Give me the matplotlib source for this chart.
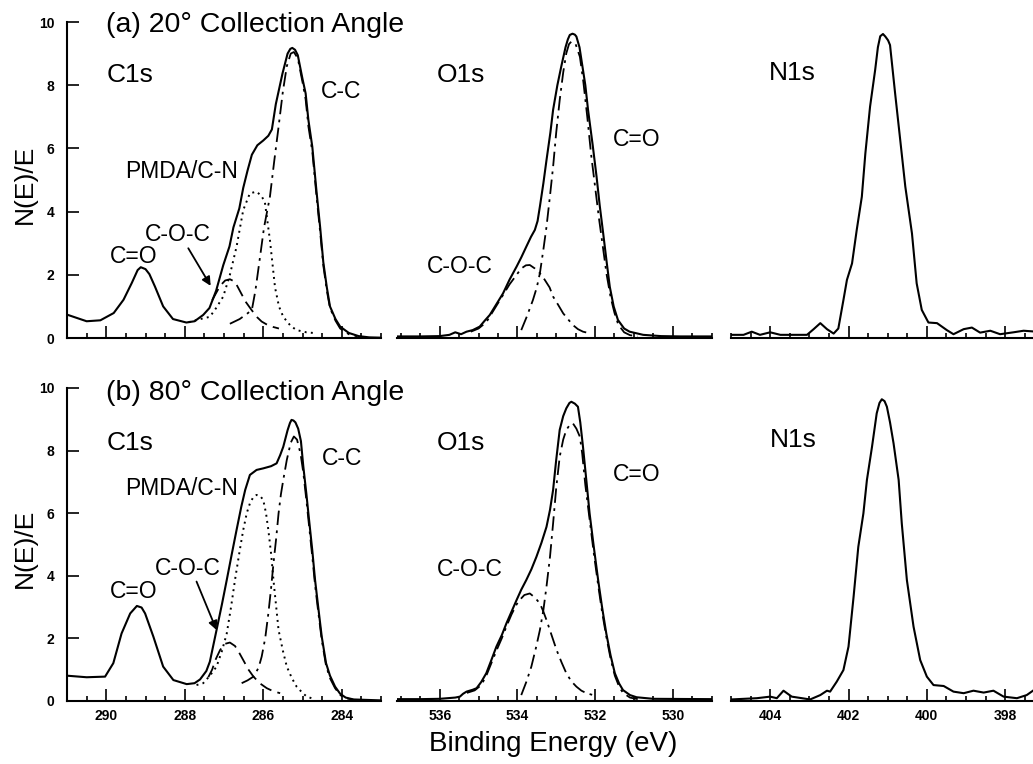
import matplotlib
matplotlib.use("Agg")
import matplotlib.pyplot as plt
import numpy as np
from matplotlib.ticker import MultipleLocator

plt.rcParams['font.family'] = ['Liberation Sans', 'DejaVu Sans']

# --- Data (binding energy in eV, N(E)/E) ---

# (a) 20 deg, C1s
C1S_A_TOT_E = [291.0, 290.5, 290.15, 289.81, 289.56, 289.35, 289.2, 289.12, 289.0, 288.9, 288.76, 288.55,
               288.3, 287.96, 287.75, 287.53, 287.37, 287.2, 287.02, 286.86, 286.76, 286.61, 286.51, 286.4,
               286.29, 286.15, 286.0, 285.87, 285.78, 285.68, 285.51, 285.38, 285.31, 285.26, 285.19, 285.12,
               285.0, 284.92, 284.85, 284.75, 284.64, 284.55, 284.47, 284.38, 284.3, 284.16, 284.04, 283.82,
               283.57, 283.3, 283.0]
C1S_A_TOT_I = [0.74, 0.53, 0.56, 0.79, 1.21, 1.74, 2.15, 2.24, 2.18, 2.02, 1.63, 1.0,
               0.6, 0.49, 0.53, 0.73, 0.95, 1.5, 2.3, 2.9, 3.5, 4.1, 4.75, 5.3,
               5.8, 6.1, 6.25, 6.4, 6.6, 7.4, 8.37, 9.0, 9.15, 9.18, 9.12, 8.95,
               8.2, 7.74, 6.9, 6.05, 4.6, 3.5, 2.4, 1.6, 1.0, 0.6, 0.36, 0.16,
               0.06, 0.02, 0.01]
C1S_A_PMDA_E = [287.9, 287.6, 287.36, 287.2, 287.02, 286.85, 286.68, 286.51, 286.34, 286.17, 286.05, 285.96,
                285.83, 285.7, 285.6, 285.49, 285.3, 285.15, 284.9, 284.64]
C1S_A_PMDA_I = [0.5, 0.6, 0.67, 0.95, 1.31, 2.0, 2.89, 4.05, 4.58, 4.63, 4.5, 4.31,
                3.1, 1.6, 1.0, 0.67, 0.38, 0.25, 0.18, 0.15]
C1S_A_COC_E = [287.3, 287.1, 286.97, 286.85, 286.72, 286.6, 286.45, 286.3, 286.15, 286.04, 285.9, 285.75, 285.6]
C1S_A_COC_I = [1.2, 1.65, 1.82, 1.86, 1.78, 1.5, 1.15, 0.89, 0.65, 0.52, 0.42, 0.35, 0.3]
C1S_A_CC_E = [286.85, 286.6, 286.4, 286.29, 286.2, 286.1, 285.98, 285.83, 285.72, 285.62, 285.5, 285.4,
              285.3, 285.22, 285.12, 285.0, 284.92, 284.85, 284.75, 284.64, 284.55, 284.47, 284.38, 284.3,
              284.16, 284.04, 283.82, 283.6]
C1S_A_CC_I = [0.45, 0.6, 0.78, 0.89, 1.5, 2.4, 3.5, 4.47, 5.6, 6.58, 7.8, 8.6,
              9.0, 9.05, 8.85, 8.1, 7.55, 6.7, 5.9, 4.45, 3.35, 2.3, 1.5, 0.95,
              0.55, 0.3, 0.12, 0.05]

# (b) 80 deg, C1s
C1S_B_TOT_E = [291.0, 290.5, 290.03, 289.82, 289.61, 289.39, 289.22, 289.1, 289.01, 288.8, 288.55, 288.29,
               287.95, 287.75, 287.61, 287.45, 287.36, 287.19, 287.05, 286.93, 286.8, 286.68, 286.56, 286.46,
               286.34, 286.17, 286.0, 285.8, 285.66, 285.57, 285.49, 285.38, 285.32, 285.28, 285.23, 285.18,
               285.11, 285.04, 284.98, 284.9, 284.85, 284.75, 284.68, 284.6, 284.51, 284.4, 284.3, 284.17,
               284.04, 283.9, 283.7, 283.0]
C1S_B_TOT_I = [0.8, 0.75, 0.77, 1.2, 2.15, 2.79, 3.03, 2.98, 2.79, 2.05, 1.09, 0.66,
               0.53, 0.56, 0.68, 0.95, 1.25, 2.26, 3.1, 3.86, 4.7, 5.46, 6.2, 6.74,
               7.22, 7.38, 7.43, 7.5, 7.59, 7.85, 8.12, 8.65, 8.88, 8.98, 8.96, 8.9,
               8.7, 8.3, 7.5, 6.6, 5.99, 4.8, 3.86, 3.0, 2.05, 1.2, 0.8, 0.45,
               0.22, 0.1, 0.04, 0.01]
C1S_B_PMDA_E = [287.7, 287.53, 287.36, 287.19, 287.05, 286.93, 286.82, 286.72, 286.6, 286.51, 286.42, 286.34,
                286.25, 286.17, 286.08, 286.0, 285.93, 285.87, 285.8, 285.74, 285.67, 285.61, 285.5, 285.4,
                285.27, 285.15, 285.0, 284.89, 284.7]
C1S_B_PMDA_I = [0.5, 0.56, 0.8, 1.09, 1.6, 2.15, 3.0, 3.86, 4.8, 5.46, 6.0, 6.31,
                6.52, 6.58, 6.55, 6.42, 6.0, 5.46, 4.7, 3.86, 3.0, 2.26, 1.6, 1.09,
                0.72, 0.45, 0.25, 0.13, 0.05]
C1S_B_COC_E = [287.4, 287.3, 287.22, 287.1, 286.97, 286.85, 286.72, 286.62, 286.51, 286.38, 286.25, 286.08,
               285.91, 285.74, 285.57]
C1S_B_COC_I = [0.75, 1.0, 1.3, 1.62, 1.82, 1.86, 1.75, 1.55, 1.3, 1.0, 0.77, 0.55,
               0.4, 0.3, 0.24]
C1S_B_CC_E = [286.55, 286.4, 286.25, 286.12, 286.04, 285.95, 285.87, 285.8, 285.74, 285.67, 285.61, 285.55,
              285.49, 285.4, 285.3, 285.22, 285.14, 285.05, 284.98, 284.9, 284.85, 284.75, 284.68, 284.6,
              284.51, 284.4, 284.3, 284.17, 284.04, 283.9, 283.7]
C1S_B_CC_I = [0.56, 0.65, 0.77, 1.05, 1.41, 2.0, 2.79, 3.6, 4.39, 5.2, 5.99, 6.6,
              7.06, 7.7, 8.25, 8.45, 8.35, 7.9, 7.3, 6.4, 5.8, 4.6, 3.7, 2.85,
              1.95, 1.12, 0.72, 0.4, 0.18, 0.08, 0.03]

# (a) 20 deg, O1s
O1S_A_TOT_E = [537.12, 536.5, 536.0, 535.75, 535.6, 535.45, 535.31, 535.15, 534.97, 534.84, 534.71, 534.55,
               534.37, 534.2, 534.02, 533.9, 533.77, 533.65, 533.55, 533.48, 533.42, 533.33, 533.25, 533.15,
               533.08, 532.97, 532.87, 532.76, 532.7, 532.65, 532.58, 532.52, 532.48, 532.4, 532.35, 532.25,
               532.18, 532.06, 531.96, 531.88, 531.79, 531.7, 531.62, 531.52, 531.41, 531.25, 531.11, 530.76,
               530.3, 529.8, 529.0]
O1S_A_TOT_I = [0.05, 0.05, 0.06, 0.1, 0.18, 0.12, 0.2, 0.25, 0.36, 0.55, 0.73, 1.05,
               1.41, 1.85, 2.26, 2.55, 2.89, 3.2, 3.42, 3.7, 4.16, 4.9, 5.63, 6.5,
               7.22, 8.0, 8.59, 9.2, 9.45, 9.59, 9.63, 9.6, 9.54, 9.2, 8.8, 8.0,
               7.22, 6.1, 5.1, 4.2, 3.31, 2.4, 1.62, 1.0, 0.57, 0.3, 0.2, 0.1,
               0.06, 0.05, 0.05]
O1S_A_CO_E = [533.9, 533.75, 533.6, 533.5, 533.42, 533.33, 533.25, 533.16, 533.08, 533.0, 532.91, 532.82,
              532.74, 532.67, 532.61, 532.5, 532.39, 532.3, 532.2, 532.1, 532.0, 531.9, 531.8, 531.7,
              531.6, 531.5, 531.4, 531.25, 531.1, 530.9]
O1S_A_CO_I = [0.25, 0.7, 1.2, 1.6, 2.05, 2.8, 3.52, 4.5, 5.42, 6.5, 7.53, 8.4,
              9.01, 9.3, 9.38, 9.3, 8.9, 8.1, 7.0, 5.8, 4.8, 3.8, 2.9, 2.0,
              1.3, 0.8, 0.42, 0.18, 0.09, 0.05]
O1S_A_COC_E = [535.2, 535.0, 534.8, 534.6, 534.4, 534.2, 534.02, 533.9, 533.78, 533.68, 533.55, 533.42,
               533.3, 533.17, 533.08, 532.95, 532.82, 532.7, 532.57, 532.44, 532.31, 532.14]
O1S_A_COC_I = [0.2, 0.3, 0.5, 0.9, 1.3, 1.7, 2.0, 2.2, 2.3, 2.31, 2.2, 2.05,
               1.85, 1.6, 1.31, 1.05, 0.78, 0.6, 0.41, 0.28, 0.2, 0.15]

# (b) 80 deg, O1s
O1S_B_TOT_E = [537.12, 536.5, 536.0, 535.6, 535.48, 535.4, 535.31, 535.15, 535.05, 534.93, 534.8, 534.67,
               534.54, 534.4, 534.28, 534.15, 534.02, 533.9, 533.77, 533.64, 533.51, 533.38, 533.25, 533.16,
               533.08, 533.0, 532.91, 532.82, 532.74, 532.66, 532.61, 532.52, 532.44, 532.38, 532.31, 532.22,
               532.14, 532.03, 531.92, 531.82, 531.71, 531.6, 531.49, 531.38, 531.28, 531.1, 530.93, 530.5, 529.0]
O1S_B_TOT_I = [0.05, 0.05, 0.06, 0.1, 0.13, 0.22, 0.29, 0.35, 0.4, 0.6, 0.88, 1.3,
               1.73, 2.1, 2.48, 2.85, 3.22, 3.55, 3.86, 4.2, 4.6, 5.05, 5.56, 6.1,
               6.74, 7.7, 8.66, 9.1, 9.35, 9.52, 9.56, 9.5, 9.4, 8.9, 8.12, 7.0,
               5.99, 4.9, 3.86, 3.0, 2.15, 1.45, 0.88, 0.55, 0.34, 0.18, 0.11, 0.06, 0.05]
O1S_B_CO_E = [533.9, 533.77, 533.64, 533.52, 533.42, 533.33, 533.25, 533.16, 533.08, 533.0, 532.91, 532.82,
              532.74, 532.65, 532.57, 532.48, 532.39, 532.33, 532.25, 532.14, 532.03, 531.92, 531.82, 531.71,
              531.6, 531.49, 531.38, 531.28, 531.1, 530.9]
O1S_B_CO_I = [0.18, 0.6, 1.09, 1.7, 2.26, 2.9, 3.65, 4.6, 5.67, 6.8, 7.8, 8.35,
              8.66, 8.82, 8.87, 8.7, 8.44, 7.9, 6.9, 5.8, 4.7, 3.7, 2.85, 2.05,
              1.35, 0.8, 0.45, 0.25, 0.1, 0.05]
O1S_B_COC_E = [535.3, 535.1, 534.93, 534.8, 534.67, 534.54, 534.4, 534.28, 534.15, 534.02, 533.94, 533.82,
               533.68, 533.55, 533.42, 533.33, 533.25, 533.12, 532.99, 532.86, 532.74, 532.61, 532.48, 532.35,
               532.22, 532.05]
O1S_B_COC_I = [0.25, 0.33, 0.5, 0.8, 1.2, 1.6, 2.0, 2.38, 2.76, 3.08, 3.22, 3.38,
               3.43, 3.3, 3.11, 2.85, 2.58, 2.1, 1.62, 1.22, 0.88, 0.62, 0.45, 0.32,
               0.24, 0.18]

# (a) 20 deg, N1s
N1S_A_E = [405.0, 404.68, 404.47, 404.26, 404.0, 403.74, 403.06, 402.89, 402.72, 402.55, 402.38, 402.26,
           402.13, 402.04, 401.91, 401.79, 401.66, 401.57, 401.45, 401.32, 401.25, 401.19, 401.12, 401.06,
           400.99, 400.94, 400.81, 400.68, 400.55, 400.38, 400.26, 400.13, 399.96, 399.74, 399.49, 399.32,
           399.06, 398.85, 398.64, 398.38, 398.13, 397.79, 397.53, 397.2]
N1S_A_I = [0.1, 0.1, 0.2, 0.1, 0.18, 0.1, 0.1, 0.28, 0.47, 0.28, 0.14, 0.3,
           1.2, 1.84, 2.36, 3.42, 4.47, 5.84, 7.32, 8.48, 9.2, 9.55, 9.62, 9.54,
           9.42, 9.27, 7.74, 6.27, 4.79, 3.31, 1.73, 0.89, 0.49, 0.47, 0.25, 0.12,
           0.28, 0.33, 0.17, 0.23, 0.12, 0.18, 0.23, 0.2]

# (b) 80 deg, N1s
N1S_B_E = [405.0, 404.34, 404.0, 403.83, 403.66, 403.45, 402.98, 402.72, 402.55, 402.47, 402.3, 402.13,
           402.0, 401.87, 401.75, 401.62, 401.53, 401.4, 401.28, 401.21, 401.15, 401.08, 401.02, 400.94,
           400.85, 400.72, 400.64, 400.51, 400.34, 400.17, 400.0, 399.83, 399.57, 399.32, 399.06, 398.81,
           398.55, 398.3, 398.04, 397.7, 397.45, 397.2]
N1S_B_I = [0.04, 0.08, 0.13, 0.08, 0.32, 0.13, 0.04, 0.18, 0.32, 0.29, 0.61, 0.98,
           1.73, 3.33, 4.92, 5.99, 7.06, 8.12, 9.19, 9.52, 9.64, 9.58, 9.4, 8.9,
           8.23, 7.06, 5.67, 3.86, 2.37, 1.3, 0.77, 0.5, 0.47, 0.29, 0.24, 0.32,
           0.26, 0.32, 0.13, 0.08, 0.18, 0.4]

# --- Layout (pixel geometry of the reference) ---
FIG_W, FIG_H = 1033, 764
TOP_ROW = (338, 22)      # pixel y of 0 and of 10
BOT_ROW = (700.7, 388)
C1S_SPAN = (67, 291.0, 283.0, 39.25)    # left px, xlim, px per eV
O1S_SPAN = (397, 537.1, 529.0, 38.83)
N1S_SPAN = (731, 405.0, 397.2, 39.17)

SOLID = dict(color='black', lw=1.5, zorder=4)
DOTTED = dict(color='black', lw=1.4, ls=(0, (1, 2.2)), zorder=3)
DASHED = dict(color='black', lw=1.3, ls=(0, (7, 3.5)), zorder=3)
DASHDOT = dict(color='black', lw=1.3, ls=(0, (8, 3, 1.5, 3)), zorder=3)

LABEL_FS = 16.5
PANEL_FS = 19
TITLE_FS = 20.5
TICK_FS = 10


def make_axes(fig, span, row):
    left_px, x0, x1, ppe = span
    y0_px, y10_px = row
    rect = [left_px / FIG_W, 1 - y0_px / FIG_H,
            abs(x0 - x1) * ppe / FIG_W, (y0_px - y10_px) / FIG_H]
    ax = fig.add_axes(rect)
    ax.set_xlim(x0, x1)
    ax.set_ylim(0, 10)
    ax.patch.set_visible(False)
    for side in ('top', 'right'):
        ax.spines[side].set_visible(False)
    for sp in ax.spines.values():
        sp.set_linewidth(1.5)
    ax.xaxis.set_major_locator(MultipleLocator(2))
    ax.xaxis.set_minor_locator(MultipleLocator(0.5))
    ax.tick_params(axis='x', which='major', direction='in', length=8.5, width=1.2,
                   labelsize=TICK_FS, pad=6)
    ax.tick_params(axis='x', which='minor', direction='in', length=3.5, width=1.2)
    for lab in ax.get_xticklabels():
        lab.set_fontweight('bold')
    return ax


def c1s_panel(ax, tot, pmda, coc, cc, labels):
    ax.plot(*pmda, **DOTTED)
    ax.plot(*coc, **DASHED)
    ax.plot(*cc, **DASHDOT)
    ax.plot(*tot, **SOLID)
    ax.yaxis.set_major_locator(MultipleLocator(2))
    ax.tick_params(axis='y', direction='in', length=8.5, width=1.2, labelsize=TICK_FS, pad=9)
    for lab in ax.get_yticklabels():
        lab.set_fontweight('bold')
    for txt, (x, y), fs in labels:
        ax.text(x, y, txt, fontsize=fs, ha='left', va='center')


fig = plt.figure(figsize=(FIG_W / 100, FIG_H / 100), dpi=100)

for row, tag in ((TOP_ROW, 'a'), (BOT_ROW, 'b')):
    ax_c = make_axes(fig, C1S_SPAN, row)
    ax_o = make_axes(fig, O1S_SPAN, row)
    ax_n = make_axes(fig, N1S_SPAN, row)
    for ax in (ax_o, ax_n):
        ax.spines['left'].set_visible(False)
        ax.tick_params(axis='y', left=False, labelleft=False)

    if tag == 'a':
        c1s_panel(ax_c, (C1S_A_TOT_E, C1S_A_TOT_I), (C1S_A_PMDA_E, C1S_A_PMDA_I),
                  (C1S_A_COC_E, C1S_A_COC_I), (C1S_A_CC_E, C1S_A_CC_I),
                  [('(a) 20\u00b0 Collection Angle', (290.0, 9.9), TITLE_FS),
                   ('C1s', (289.98, 8.32), PANEL_FS),
                   ('C-C', (284.54, 7.79), LABEL_FS),
                   ('PMDA/C-N', (289.52, 5.26), LABEL_FS),
                   ('C-O-C', (289.01, 3.26), LABEL_FS),
                   ('C=O', (289.9, 2.57), LABEL_FS)])
        arrow = ((287.91, 2.84), (287.34, 1.65))
        ax_o.plot(O1S_A_COC_E, O1S_A_COC_I, **DASHDOT)
        ax_o.plot(O1S_A_CO_E, O1S_A_CO_I, **DASHDOT)
        ax_o.plot(O1S_A_TOT_E, O1S_A_TOT_I, **SOLID)
        o_labels = [('O1s', (536.08, 8.32), PANEL_FS), ('C=O', (531.54, 6.27), LABEL_FS),
                    ('C-O-C', (536.34, 2.26), LABEL_FS)]
        ax_n.plot(N1S_A_E, N1S_A_I, **SOLID)
        n_label = ('N1s', (404.04, 8.38))
        for ax in (ax_c, ax_o, ax_n):
            ax.tick_params(axis='x', which='both', labelbottom=False)
        ylab_y = 184
    else:
        c1s_panel(ax_c, (C1S_B_TOT_E, C1S_B_TOT_I), (C1S_B_PMDA_E, C1S_B_PMDA_I),
                  (C1S_B_COC_E, C1S_B_COC_I), (C1S_B_CC_E, C1S_B_CC_I),
                  [('(b) 80\u00b0 Collection Angle', (290.0, 9.84), TITLE_FS),
                   ('C1s', (289.98, 8.23), PANEL_FS),
                   ('C-C', (284.51, 7.75), LABEL_FS),
                   ('PMDA/C-N', (289.52, 6.79), LABEL_FS),
                   ('C-O-C', (288.76, 4.23), LABEL_FS),
                   ('C=O', (289.9, 3.49), LABEL_FS)])
        arrow = ((287.7, 3.81), (287.19, 2.26))
        ax_o.plot(O1S_B_COC_E, O1S_B_COC_I, **DASHDOT)
        ax_o.plot(O1S_B_CO_E, O1S_B_CO_I, **DASHDOT)
        ax_o.plot(O1S_B_TOT_E, O1S_B_TOT_I, **SOLID)
        o_labels = [('O1s', (536.08, 8.23), PANEL_FS), ('C=O', (531.54, 7.22), LABEL_FS),
                    ('C-O-C', (536.08, 4.18), LABEL_FS)]
        ax_n.plot(N1S_B_E, N1S_B_I, **SOLID)
        n_label = ('N1s', (404.0, 8.34))
        ylab_y = 548

    ax_c.annotate('', xy=arrow[1], xytext=arrow[0],
                  arrowprops=dict(arrowstyle='-|>', color='black', lw=1.3,
                                  mutation_scale=13, shrinkA=0, shrinkB=0))
    for txt, (x, y), fs in o_labels:
        ax_o.text(x, y, txt, fontsize=fs, ha='left', va='center')
    ax_n.text(n_label[1][0], n_label[1][1], n_label[0], fontsize=PANEL_FS, ha='left', va='center')
    fig.text(25 / FIG_W, 1 - ylab_y / FIG_H, 'N(E)/E', rotation=90, fontsize=19,
             ha='center', va='center')

fig.text(553 / FIG_W, 1 - 751 / FIG_H, 'Binding Energy (eV)', fontsize=20,
         ha='center', va='baseline')

fig.savefig('out.png', dpi=100)
